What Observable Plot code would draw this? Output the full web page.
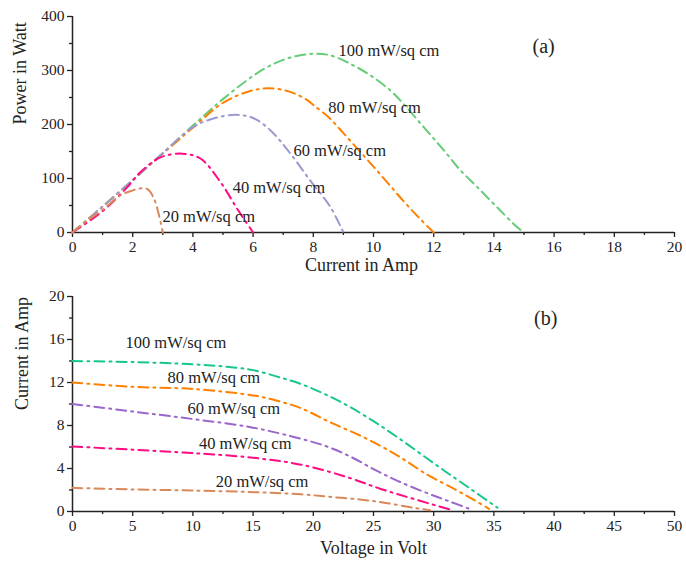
<!DOCTYPE html>
<html>
<head>
<meta charset="utf-8">
<script src="https://cdn.jsdelivr.net/npm/d3@7"></script>
<script src="https://cdn.jsdelivr.net/npm/@observablehq/plot@0.6"></script>
<style>
  html, body { margin: 0; padding: 0; background: #fff; }
  #chart { width: 686px; height: 569px; }
  #chart svg { display: block; font-family: "Liberation Serif", serif; }
  #chart svg text { font-family: "Liberation Serif", serif; }
</style>
</head>
<body>
<div id="chart"></div>
<script>
// ---------- Data ----------
const seriesNames = ["100 mW/sq cm", "80 mW/sq cm", "60 mW/sq cm", "40 mW/sq cm", "20 mW/sq cm"];
const colorsA = ["#66cc77", "#ff8000", "#9a9ad0", "#ff0a80", "#d9885a"];
const colorsB = ["#17c68a", "#ff8000", "#9966cc", "#ff0a80", "#d9885a"];

// (a) Power vs current
const pwrCur100 = [0, 1, 2, 3, 4, 5, 6, 6.6, 7.24, 8.0, 8.57, 9.24, 9.9, 10.56, 11.0, 11.67, 12.34, 12.89, 13.45, 14.1, 14.77, 15];
const pwrVal100 = [0, 48, 97, 147, 198, 247, 290, 310, 324, 331, 328, 312, 291, 263, 238, 195, 152, 115, 84, 47, 10, 0];
const pwrCur80 = [0, 1, 2, 3, 4, 5, 5.9, 6.5, 7.0, 7.4, 7.8, 8.0, 8.5, 9.0, 9.5, 10.0, 10.5, 11.0, 11.5, 12];
const pwrVal80 = [0, 48, 97, 146, 194, 240, 262, 267, 264, 257, 245, 236, 214, 184, 153, 122, 90, 58, 28, 0];
const pwrCur60 = [0, 1, 2, 3, 4, 4.68, 5.42, 6.0, 6.58, 7.24, 7.9, 8.57, 9];
const pwrVal60 = [0, 48, 97, 147, 195, 211, 218, 212, 189, 146, 96, 47, 0];
const pwrCur40 = [0, 1.03, 1.82, 2.26, 2.92, 3.64, 4.25, 4.92, 5.47, 6];
const pwrVal40 = [0, 41, 84, 112, 139, 146, 137, 93, 44, 0];
const pwrCur20 = [0, 0.49, 1.0, 1.6, 2.0, 2.3, 2.5, 2.69, 2.86, 3.0];
const pwrVal20 = [0, 22, 42, 69, 78, 82, 80, 65, 35, 0];

// (b) Current vs voltage
const ivVolt100 = [0, 5, 10, 13.4, 15, 17, 19, 21, 23, 25, 27, 29, 31, 33, 35.3];
const ivCur100  = [14, 13.9, 13.7, 13.4, 13.15, 12.55, 11.85, 10.9, 9.75, 8.4, 6.9, 5.3, 3.7, 2.15, 0.35];
const ivVolt80 = [0, 5, 10, 15, 17, 19, 21.4, 24.2, 27, 29.5, 31.7, 33.3, 34.6];
const ivCur80  = [12, 11.6, 11.4, 10.8, 10.3, 9.6, 8.3, 6.9, 5.2, 3.4, 2.1, 1.1, 0.25];
const ivVolt60 = [0, 5, 10, 15, 19, 21, 23, 25, 27, 29.7, 31.4, 33.1];
const ivCur60  = [10, 9.3, 8.6, 7.8, 6.75, 6.1, 5.15, 3.95, 2.85, 1.6, 0.9, 0.19];
const ivVolt40 = [0, 5, 10, 15, 19, 22.8, 25.6, 28.3, 31.6];
const ivCur40  = [6.05, 5.75, 5.43, 5.0, 4.35, 3.2, 2.1, 1.18, 0.1];
const ivVolt20 = [0, 5, 10, 15, 19, 21.5, 24, 26, 28.3, 29.7];
const ivCur20  = [2.2, 2.05, 1.95, 1.8, 1.6, 1.35, 1.1, 0.8, 0.35, 0.12];

// tick values
const aXMajor = [0, 2, 4, 6, 8, 10, 12, 14, 16, 18, 20];
const aXMinor = [1, 3, 5, 7, 9, 11, 13, 15, 17, 19];
const aYMajor = [0, 100, 200, 300, 400];
const aYMinor = [50, 150, 250, 350];
const bXMajor = [0, 5, 10, 15, 20, 25, 30, 35, 40, 45, 50];
const bXMinor = [2.5, 7.5, 12.5, 17.5, 22.5, 27.5, 32.5, 37.5, 42.5, 47.5];
const bYMajor = [0, 4, 8, 12, 16, 20];
const bYMinor = [2, 6, 10, 14, 18];

// ---------- Build tables ----------
function build(xs, ys, name) { return xs.map((x, i) => ({x, y: ys[i], s: name})); }
const powerData = [
  ...build(pwrCur100, pwrVal100, seriesNames[0]),
  ...build(pwrCur80, pwrVal80, seriesNames[1]),
  ...build(pwrCur60, pwrVal60, seriesNames[2]),
  ...build(pwrCur40, pwrVal40, seriesNames[3]),
  ...build(pwrCur20, pwrVal20, seriesNames[4])
];
const ivData = [
  ...build(ivVolt100, ivCur100, seriesNames[0]),
  ...build(ivVolt80, ivCur80, seriesNames[1]),
  ...build(ivVolt60, ivCur60, seriesNames[2]),
  ...build(ivVolt40, ivCur40, seriesNames[3]),
  ...build(ivVolt20, ivCur20, seriesNames[4])
];

// label anchors (data coordinates)
const aLabels = [
  {x: 8.84, y: 337, t: seriesNames[0]},
  {x: 8.5, y: 231, t: seriesNames[1]},
  {x: 7.34, y: 152, t: seriesNames[2]},
  {x: 5.32, y: 83, t: seriesNames[3]},
  {x: 2.99, y: 30, t: seriesNames[4]}
];
const bLabels = [
  {x: 4.4, y: 15.7, t: seriesNames[0]},
  {x: 7.9, y: 12.4, t: seriesNames[1]},
  {x: 9.55, y: 9.6, t: seriesNames[2]},
  {x: 10.5, y: 6.3, t: seriesNames[3]},
  {x: 11.9, y: 2.8, t: seriesNames[4]}
];

const font = "Liberation Serif";
const dash = "10,5,2,5";

function axes(xMajor, xMinor, yMajor, yMinor) {
  return [
    Plot.axisX({ticks: xMajor, tickSize: 5, tickPadding: 3, label: null, fontSize: 15.5, fontFamily: font, fill: "#222", stroke: "#222", strokeWidth: 1.3}),
    Plot.axisX({ticks: xMinor, tickSize: 3, text: null, label: null, stroke: "#222", strokeWidth: 1.3}),
    Plot.axisY({ticks: yMajor, tickSize: 5, tickPadding: 3, label: null, fontSize: 15.5, fontFamily: font, fill: "#222", stroke: "#222", strokeWidth: 1.3}),
    Plot.axisY({ticks: yMinor, tickSize: 3, text: null, label: null, stroke: "#222", strokeWidth: 1.3}),
    Plot.ruleY([0], {stroke: "#222", strokeWidth: 1.5}),
    Plot.ruleX([0], {stroke: "#222", strokeWidth: 1.5})
  ];
}

const topPlot = Plot.plot({
  width: 686, height: 285,
  marginLeft: 72, marginRight: 12, marginTop: 16, marginBottom: 53,
  style: {fontFamily: font, fontSize: "15px", color: "#222", background: "#fff"},
  x: {domain: [0, 20]},
  y: {domain: [0, 400]},
  color: {domain: seriesNames, range: colorsA},
  marks: [
    ...axes(aXMajor, aXMinor, aYMajor, aYMinor),
    Plot.line(powerData, {x: "x", y: "y", z: "s", stroke: "s", strokeWidth: 2, strokeDasharray: dash, curve: "catmull-rom"}),
    Plot.text(aLabels, {x: "x", y: "y", text: "t", textAnchor: "start", fontSize: 16.5, fontFamily: font, fill: "#222"}),
    Plot.text(["(a)"], {x: () => 15.65, y: () => 344, text: d => d, fontSize: 20, fontFamily: font, fill: "#222"}),
    Plot.text(["Power in Watt"], {frameAnchor: "left", dx: -52, rotate: -90, text: d => d, fontSize: 18, fontFamily: font, fill: "#222"}),
    Plot.text(["Current in Amp"], {frameAnchor: "bottom", dx: -12, dy: 38, text: d => d, fontSize: 18, fontFamily: font, fill: "#222"})
  ]
});

const bottomPlot = Plot.plot({
  width: 686, height: 284,
  marginLeft: 72, marginRight: 12, marginTop: 11, marginBottom: 58,
  style: {fontFamily: font, fontSize: "15px", color: "#222", background: "#fff"},
  x: {domain: [0, 50]},
  y: {domain: [0, 20]},
  color: {domain: seriesNames, range: colorsB},
  marks: [
    ...axes(bXMajor, bXMinor, bYMajor, bYMinor),
    Plot.line(ivData, {x: "x", y: "y", z: "s", stroke: "s", strokeWidth: 2, strokeDasharray: dash, curve: "catmull-rom"}),
    Plot.text(bLabels, {x: "x", y: "y", text: "t", textAnchor: "start", fontSize: 16.5, fontFamily: font, fill: "#222"}),
    Plot.text(["(b)"], {x: () => 39.3, y: () => 17.95, text: d => d, fontSize: 20, fontFamily: font, fill: "#222"}),
    Plot.text(["Current in Amp"], {frameAnchor: "left", dx: -50, dy: 6, rotate: -90, text: d => d, fontSize: 18, fontFamily: font, fill: "#222"}),
    Plot.text(["Voltage in Volt"], {frameAnchor: "bottom", dx: 0, dy: 42, text: d => d, fontSize: 18, fontFamily: font, fill: "#222"})
  ]
});

document.getElementById("chart").append(topPlot, bottomPlot);
</script>
</body>
</html>
